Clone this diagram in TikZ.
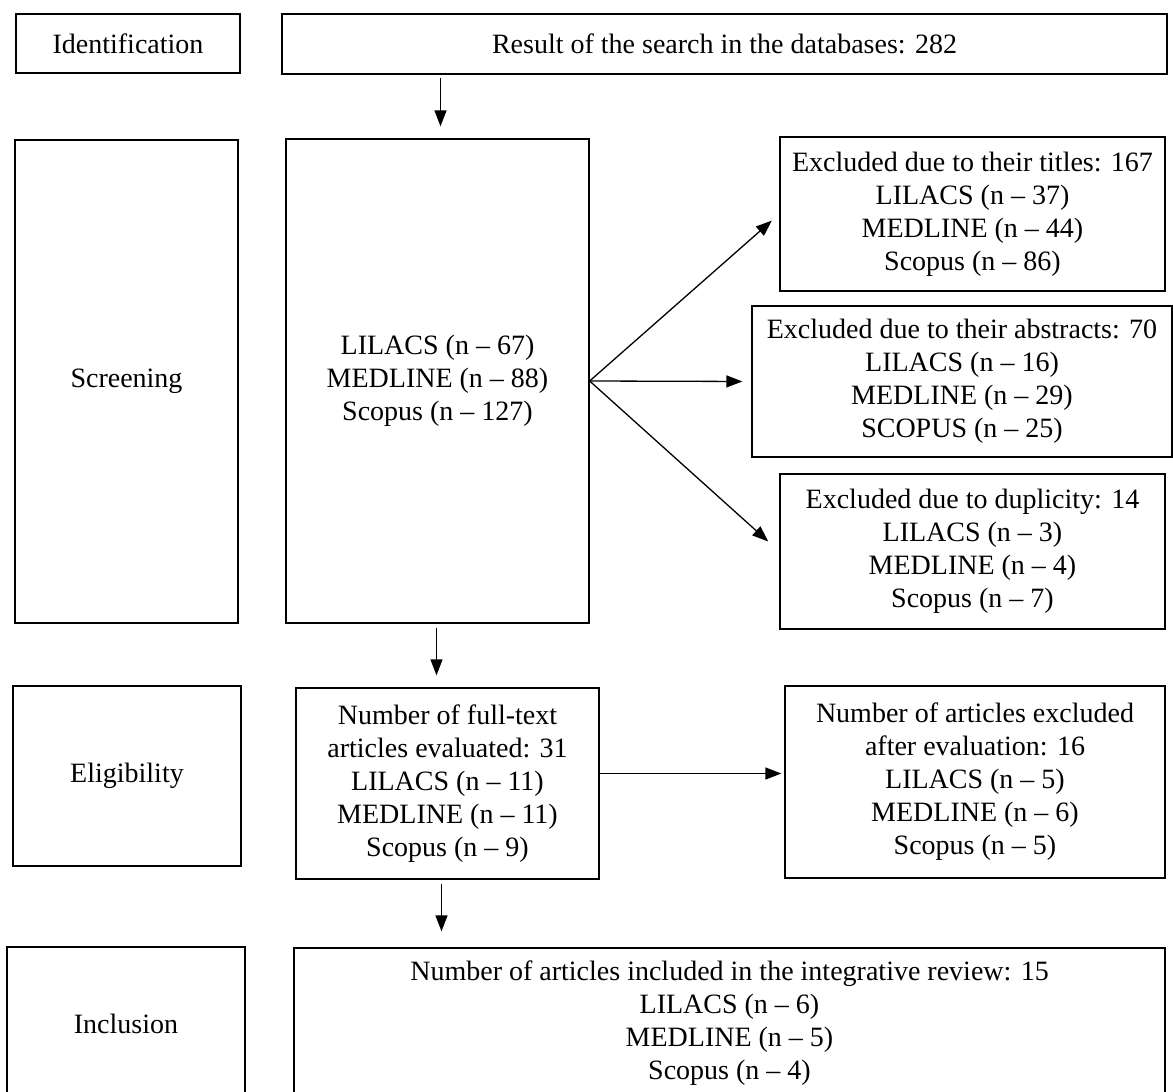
\documentclass[tikz,border=0pt]{standalone}
\usepackage{fontspec}
\setmainfont{Liberation Serif}
\usetikzlibrary{arrows.meta}
\begin{document}
\begin{tikzpicture}[x=1pt,y=-1pt,
 box/.style={draw, line width=1.3pt, align=center, inner sep=0pt, font=\fontsize{28}{33}\selectfont},
 arr/.style={line width=1.3pt, -{Triangle[length=16pt,width=12pt]}}]
\useasboundingbox (0,0) rectangle (1173,1092);
\clip (0,0) rectangle (1173,1092);
\node[box, minimum width=224pt, minimum height=59pt] (ident) at (128,43.5) {Identification};
\node[box, minimum width=885pt, minimum height=60pt] (result) at (724.5,44) {Result of the search in the databases: 282};
\node[box, minimum width=223pt, minimum height=483pt] (screen) at (126.5,381.5) {Screening};
\node[box, minimum width=303pt, minimum height=484pt] (mid) at (437.5,381) {LILACS (n – 67)\\MEDLINE (n – 88)\\Scopus (n – 127)};
\node[box, minimum width=385pt, minimum height=154pt] (titles) at (972.5,214) {Excluded due to their titles: 167\\LILACS (n – 37)\\MEDLINE (n – 44)\\Scopus (n – 86)};
\node[box, minimum width=420pt, minimum height=151pt] (abstracts) at (962,381.5) {Excluded due to their abstracts: 70\\LILACS (n – 16)\\MEDLINE (n – 29)\\SCOPUS (n – 25)};
\node[box, minimum width=385pt, minimum height=155pt] (dup) at (972.5,551.5) {Excluded due to duplicity: 14\\LILACS (n – 3)\\MEDLINE (n – 4)\\Scopus (n – 7)};
\node[box, minimum width=228pt, minimum height=180pt] (elig) at (127,776) {Eligibility};
\node[box, minimum width=303pt, minimum height=191pt] (fulltext) at (447.5,783.5) {Number of full-text\\articles evaluated: 31\\LILACS (n – 11)\\MEDLINE (n – 11)\\Scopus (n – 9)};
\node[box, minimum width=380pt, minimum height=192pt] (evalbox) at (975,782) {Number of articles excluded\\after evaluation: 16\\LILACS (n – 5)\\MEDLINE (n – 6)\\Scopus (n – 5)};
\node[box, minimum width=238pt, minimum height=153pt] (incl) at (126,1023.5) {Inclusion};
\node[box, minimum width=871pt, minimum height=150pt] (included) at (729.5,1023) {Number of articles included in the integrative review: 15\\LILACS (n – 6)\\MEDLINE (n – 5)\\Scopus (n – 4)};
\draw[arr, shorten <=3pt, shorten >=12pt] ([xshift=3pt]mid.north |- result.south) -- ([xshift=3pt]mid.north);
\draw[arr, shorten >=10pt] (mid.east) -- (titles.west);
\draw[arr, shorten >=9pt] (mid.east) -- (abstracts.west);
\draw[arr, shorten >=15pt] (mid.east) -- (dup.west);
\draw[arr, shorten <=4pt, shorten >=12pt] ([xshift=-1pt]mid.south) -- ([xshift=-1pt]mid.south |- fulltext.north);
\draw[arr, shorten >=3pt] ([yshift=10pt]fulltext.east) -- ([yshift=10pt]fulltext.east -| evalbox.west);
\draw[arr, shorten <=4pt, shorten >=16pt] ([xshift=-6pt]fulltext.south) -- ([xshift=-6pt]fulltext.south |- included.north);
\end{tikzpicture}
\end{document}
